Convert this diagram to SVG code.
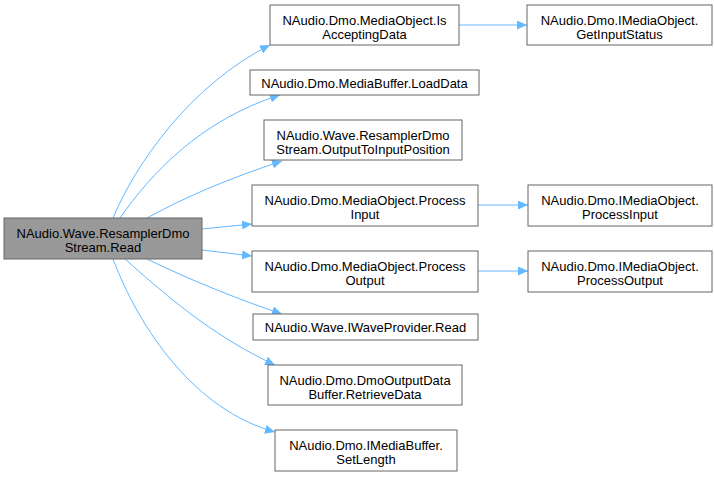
<svg xmlns="http://www.w3.org/2000/svg" width="714" height="477" viewBox="0 0 714 477">
<style>
.n rect{fill:#fff;stroke:#666;stroke-width:1}
.n.main rect{fill:#999;stroke:#666}
text{font-family:"Liberation Sans",Arial,Helvetica,sans-serif;font-size:13px;fill:#000;text-anchor:middle}
.e path{fill:none;stroke:#63b8ff;stroke-width:1}
</style>
<defs>
<marker id="ah" markerWidth="11" markerHeight="9" refX="10" refY="4.5" orient="auto" markerUnits="userSpaceOnUse">
<path d="M0,0 L10,4.5 L0,9 Z" fill="#63b8ff"/>
</marker>
</defs>
<rect width="714" height="477" fill="#fff"/>
<g id="edges" class="e">
<path d="M113,218 C135,165 190,85 270,45" marker-end="url(#ah)"/>
<path d="M120,218 C150,175 200,120 280,95" marker-end="url(#ah)"/>
<path d="M147,218 C185,197 230,178 282,161" marker-end="url(#ah)"/>
<path d="M202,229 L252,224" marker-end="url(#ah)"/>
<path d="M202,250 L252,256" marker-end="url(#ah)"/>
<path d="M147,259 C190,280 240,300 282,314" marker-end="url(#ah)"/>
<path d="M125,259 C160,290 210,335 275,365" marker-end="url(#ah)"/>
<path d="M113,259 C140,330 195,410 275,432" marker-end="url(#ah)"/>
<path d="M459,25 L527,25" marker-end="url(#ah)"/>
<path d="M478,205 L528,205" marker-end="url(#ah)"/>
<path d="M478,271 L528,271" marker-end="url(#ah)"/>
</g>
<g id="main" class="n main"><rect x="4" y="218" width="198" height="41"/><text x="103" y="238">NAudio.Wave.ResamplerDmo</text><text x="103" y="252">Stream.Read</text></g>
<g id="isaccepting" class="n"><rect x="270" y="5" width="189" height="40"/><text x="364.5" y="25">NAudio.Dmo.MediaObject.Is</text><text x="364.5" y="39">AcceptingData</text></g>
<g id="getinputstatus" class="n"><rect x="527" y="5" width="185" height="40"/><text x="619.5" y="25">NAudio.Dmo.IMediaObject.</text><text x="619.5" y="39">GetInputStatus</text></g>
<g id="loaddata" class="n"><rect x="250" y="70" width="229" height="25"/><text x="364.5" y="87.5">NAudio.Dmo.MediaBuffer.LoadData</text></g>
<g id="outputtoinput" class="n"><rect x="264" y="120" width="198" height="40"/><text x="363" y="140">NAudio.Wave.ResamplerDmo</text><text x="363" y="154">Stream.OutputToInputPosition</text></g>
<g id="processinput" class="n"><rect x="252" y="185" width="226" height="41"/><text x="365" y="205">NAudio.Dmo.MediaObject.Process</text><text x="365" y="219">Input</text></g>
<g id="iprocessinput" class="n"><rect x="528" y="185" width="184" height="41"/><text x="620" y="205">NAudio.Dmo.IMediaObject.</text><text x="620" y="219">ProcessInput</text></g>
<g id="processoutput" class="n"><rect x="252" y="251" width="226" height="41"/><text x="365" y="271">NAudio.Dmo.MediaObject.Process</text><text x="365" y="285">Output</text></g>
<g id="iprocessoutput" class="n"><rect x="528" y="251" width="184" height="41"/><text x="620" y="271">NAudio.Dmo.IMediaObject.</text><text x="620" y="285">ProcessOutput</text></g>
<g id="iwaveread" class="n"><rect x="253" y="314" width="225" height="26"/><text x="365.5" y="331.5">NAudio.Wave.IWaveProvider.Read</text></g>
<g id="retrievedata" class="n"><rect x="268" y="365" width="194" height="40"/><text x="365" y="385">NAudio.Dmo.DmoOutputData</text><text x="365" y="399">Buffer.RetrieveData</text></g>
<g id="setlength" class="n"><rect x="275" y="430" width="182" height="41"/><text x="366" y="450">NAudio.Dmo.IMediaBuffer.</text><text x="366" y="464">SetLength</text></g>
</svg>
